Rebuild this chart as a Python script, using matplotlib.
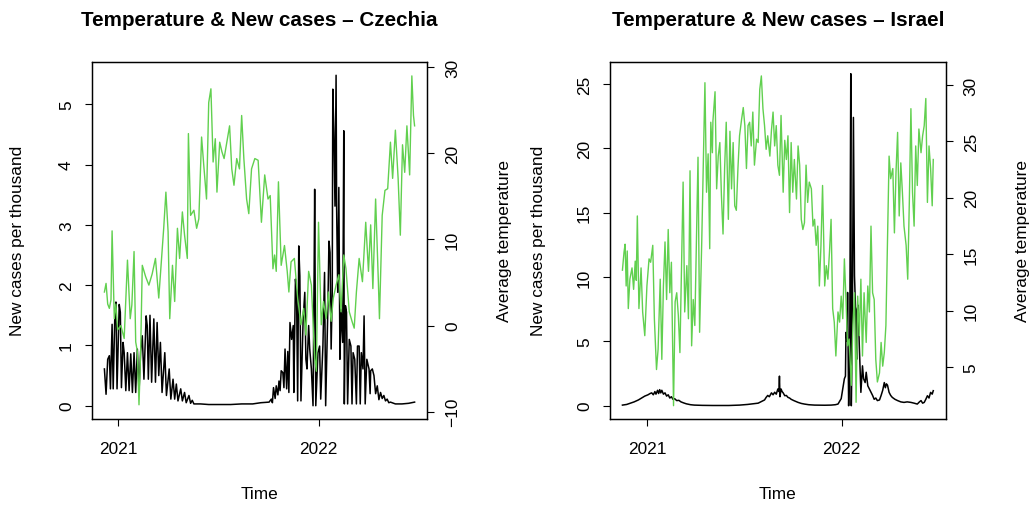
import numpy as np
import pandas as pd
import matplotlib
matplotlib.use("Agg")
import matplotlib.pyplot as plt
import matplotlib.dates as mdates

plt.rcParams['font.family'] = ['Liberation Sans', 'DejaVu Sans']

# ---- data (day offset from first date, value) ----
cz_start = "2020-12-07"
cz_cases = [(0,0.61),(3,0.19),(6,0.77),(9,0.83),(11,0.28),(14,1.35),(16,0.28),(19,1.50),(21,1.72),(23,0.28),
            (27,1.68),(29,1.55),(31,0.30),(34,1.05),(36,0.88),(39,0.25),(42,0.88),(45,0.25),(48,0.86),(51,0.22),
            (54,0.88),(57,0.22),(60,0.94),(63,0.22),(66,0.9),(69,1.16),(72,0.44),(76,1.49),(78,1.33),(80,0.44),
            (83,1.50),(86,0.39),(90,1.44),(93,0.39),(96,1.38),(99,0.50),(102,1.05),(105,0.22),(110,0.88),(113,0.17),
            (118,0.61),(121,0.11),(125,0.44),(128,0.11),(131,0.36),(134,0.08),(139,0.28),(142,0.08),(146,0.22),(149,0.05),
            (154,0.17),(157,0.04),(160,0.09),(163,0.03),(175,0.03),(190,0.02),(210,0.02),(230,0.02),(250,0.03),(270,0.03),
            (285,0.05),(300,0.06),(304,0.11),(306,0.05),(308,0.30),(311,0.12),(313,0.33),(316,0.18),(318,0.41),(320,0.25),
            (322,0.58),(325,0.55),(327,0.30),(329,0.94),(332,0.28),(334,0.90),(336,0.22),(338,1.38),(341,1.10),(344,1.33),
            (345,0.22),(348,2.10),(350,1.88),(352,0.08),(354,2.65),(356,2.15),(358,0.08),(362,1.44),(365,1.88),(367,0.77),
            (369,0.61),(372,1.33),(374,0.94),(377,0.61),(380,0.0),(382,2.21),(383,3.59),(385,0.0),(389,0.88),(392,0.99),
            (394,0.11),(398,0.99),(401,2.21),(403,0.0),(407,1.60),(409,2.73),(411,2.54),(413,0.94),(415,1.88),(416,5.25),
            (418,4.53),(420,3.31),(422,5.48),(423,3.26),(425,1.88),(427,3.62),(429,0.77),(431,1.60),(434,1.05),(436,4.56),
            (437,0.03),(439,1.66),(441,1.55),(443,0.03),(446,1.10),(449,0.99),(451,0.03),(453,0.88),(456,0.77),(459,0.03),
            (461,0.99),(464,0.99),(466,0.03),(468,0.88),(471,0.61),(473,1.49),(475,0.03),(478,0.77),(482,0.61),(484,0.20),
            (485,0.58),(488,0.61),(491,0.50),(494,0.20),(497,0.33),(500,0.10),(503,0.22),(506,0.12),(509,0.17),(512,0.08),
            (515,0.11),(518,0.05),(521,0.06),(530,0.03),(542,0.03),(554,0.04),(565,0.06)]
cz_temp = [(0,3.9),(3,4.9),(6,2.5),(9,2.0),(12,3.0),(14,11.0),(18,0.8),(21,2.5),(24,-0.5),(30,0.0),(36,-1.5),
           (42,7.6),(47,0.8),(50,2.4),(54,8.6),(57,-1.9),(60,-3.0),(63,-9.2),(66,-3.0),(69,7.0),(75,5.7),(81,4.7),
           (87,6.0),(93,7.8),(99,3.2),(104,7.8),(108,11.3),(112,15.5),(116,10.9),(119,0.8),(124,7.0),(128,2.8),
           (133,11.3),(137,7.8),(142,13.2),(146,10.5),(151,7.8),(153,22.3),(157,12.8),(163,13.4),(168,11.3),(172,12.4),
           (177,21.9),(181,18.6),(186,14.7),(190,25.9),(194,27.5),(198,19.0),(202,21.7),(205,15.5),(210,21.3),(214,20.2),
           (218,19.4),(223,21.3),(228,23.2),(232,18.2),(236,16.3),(241,19.4),(246,18.2),(250,24.4),(254,19.4),(259,14.7),
           (263,13.0),(268,18.2),(274,19.4),(280,19.2),(286,12.0),(292,17.5),(298,14.7),(302,15.1),(307,6.6),(310,8.2),
           (313,6.3),(317,16.7),(322,7.0),(328,9.3),(333,6.3),(336,3.9),(340,7.4),(346,7.8),(352,3.2),(358,0.1),
           (363,2.0),(367,-1.1),(372,6.3),(377,4.7),(383,-3.8),(386,-5.3),(390,12.0),(395,0.1),(399,2.8),(404,0.8),
           (408,3.9),(413,0.5),(417,3.2),(422,4.7),(427,5.9),(431,1.6),(436,8.2),(440,6.6),(446,1.6),(451,0.5),
           (455,-0.3),(459,3.9),(464,7.8),(470,5.1),(476,12.0),(481,6.3),(485,11.7),(489,4.3),(494,14.7),(499,5.1),
           (501,0.8),(506,12.8),(511,15.7),(516,15.9),(521,21.3),(525,17.1),(530,22.7),(535,17.1),(539,10.5),(543,21.0),
           (547,17.8),(551,23.2),(556,17.5),(560,29.0),(563,24.4),(565,23.2)]

il_start = "2020-11-15"
il_cases = [(0,0.05),(8,0.1),(15,0.2),(22,0.3),(30,0.45),(36,0.6),(42,0.75),(48,0.85),(52,0.95),(55,1.0),
            (58,0.85),(61,1.1),(63,0.9),(66,1.2),(68,0.95),(70,1.25),(72,1.0),(74,1.2),(77,0.9),(80,1.0),
            (83,0.75),(86,0.85),(89,0.6),(92,0.7),(95,0.5),(98,0.55),(102,0.4),(106,0.42),(110,0.3),(115,0.22),
            (120,0.15),(128,0.08),(135,0.05),(150,0.03),(170,0.02),(200,0.02),(220,0.05),(235,0.1),(245,0.15),(255,0.2),
            (262,0.35),(267,0.45),(270,0.65),(273,0.8),(276,0.7),(280,1.0),(283,0.85),(286,1.05),(289,0.9),(292,1.3),
            (294,1.1),(295,2.3),(296,0.7),(298,1.3),(300,1.1),(302,1.0),(305,0.78),(308,0.8),(311,0.65),(314,0.6),
            (317,0.5),(322,0.4),(330,0.26),(336,0.18),(342,0.13),(350,0.08),(361,0.05),(380,0.04),(392,0.05),(400,0.08),
            (405,0.13),(409,0.4),(411,0.55),(414,1.3),(417,2.1),(419,2.3),(420,5.7),(422,5.0),(423,8.8),(425,0.0),
            (427,3.6),(429,25.8),(430,0.0),(432,6.2),(434,22.4),(436,10.1),(438,7.5),(439,5.2),(440,3.6),(441,7.5),
            (443,7.8),(445,4.7),(448,1.04),(451,3.1),(453,2.1),(456,1.8),(458,2.6),(461,1.55),(464,1.3),(467,1.04),
            (470,0.8),(473,0.5),(476,0.6),(479,0.4),(483,0.45),(486,0.8),(489,1.2),(492,1.8),(494,1.4),(496,1.7),
            (498,1.6),(501,1.04),(504,0.8),(507,0.65),(512,0.5),(517,0.4),(523,0.3),(529,0.26),(535,0.3),(542,0.26),
            (548,0.2),(554,0.13),(558,0.3),(561,0.4),(564,0.2),(567,0.26),(570,0.5),(573,0.78),(576,0.6),(579,1.04),
            (582,0.9),(584,1.17)]
il_temp = [(0,13.6),(3,15.2),(5,15.9),(7,12.2),(9,15.3),(11,10.2),(14,12.8),(18,13.8),(21,11.9),(24,14.4),
           (26,12.7),(28,18.4),(31,10.2),(35,13.8),(38,9.9),(42,7.8),(46,12.2),(50,14.6),(53,14.3),(57,15.8),
           (60,9.3),(64,4.8),(67,6.6),(71,12.8),(74,5.7),(77,12.2),(80,16.1),(83,11.0),(86,17.2),(89,11.6),
           (92,14.3),(96,1.6),(99,10.8),(102,11.6),(105,9.6),(108,6.3),(111,13.7),(114,21.4),(117,9.9),(121,14.0),
           (124,9.3),(127,22.4),(130,6.9),(133,11.0),(136,8.7),(139,16.1),(142,23.6),(145,8.1),(149,16.1),(152,23.4),
           (155,30.2),(158,20.5),(161,23.9),(164,15.5),(166,26.7),(169,24.0),(170,26.8),(174,29.4),(177,20.8),(180,23.7),
           (183,24.9),(186,20.2),(189,16.8),(192,22.6),(195,26.7),(199,18.1),(202,25.9),(205,20.8),(208,24.9),(211,19.3),
           (214,18.9),(217,22.6),(220,25.5),(224,27.0),(227,28.0),(230,26.4),(233,22.6),(236,26.4),(239,26.7),(242,24.6),
           (245,27.6),(248,22.9),(252,25.2),(255,24.9),(258,29.6),(261,30.8),(264,27.9),(267,26.4),(270,24.3),(273,25.5),
           (277,23.7),(280,26.0),(283,27.6),(286,24.6),(289,26.4),(292,22.9),(295,22.0),(298,27.3),(302,20.5),(305,25.1),
           (308,23.4),(311,25.5),(314,18.7),(317,24.9),(320,20.5),(323,23.4),(327,19.9),(330,24.6),(333,22.9),(336,18.1),
           (339,17.2),(342,17.8),(345,22.9),(348,19.6),(351,21.4),(355,20.8),(358,17.5),(361,18.1),(364,15.8),(367,17.5),
           (370,12.2),(373,15.8),(376,21.1),(380,12.2),(383,14.0),(386,12.8),(389,15.2),(392,18.1),(395,10.2),(398,9.0),
           (401,6.0),(405,9.9),(408,9.0),(411,11.3),(414,9.3),(417,14.6),(420,11.0),(423,6.9),(426,7.5),(430,3.4),
           (433,8.7),(436,11.6),(439,1.9),(442,11.3),(445,7.8),(448,12.8),(451,6.0),(454,11.6),(458,7.2),(461,12.2),
           (464,9.9),(467,17.5),(470,11.6),(473,11.0),(476,5.7),(479,3.7),(483,4.5),(486,7.2),(489,5.1),(492,6.3),
           (495,8.7),(498,16.4),(501,23.7),(504,21.7),(508,22.6),(511,16.9),(514,22.3),(517,25.8),(520,18.4),(523,23.1),
           (526,20.5),(529,17.5),(533,15.8),(536,12.8),(539,19.6),(542,27.9),(545,20.5),(548,17.5),(551,24.6),(554,21.1),
           (557,26.1),(561,24.0),(564,25.5),(567,26.4),(570,28.8),(573,19.6),(576,24.6),(579,22.6),(582,19.3),(584,23.4)]

year_ticks = ["2021-01-01", "2022-01-01"]
year_labels = ["2021", "2022"]

W, H = 1034, 506
fig = plt.figure(figsize=(W / 100, H / 100), dpi=100)
GREEN = "#61D04F"
FS = 12.4


def to_xy(start, pairs):
    d = np.array([p[0] for p in pairs], dtype=float)
    v = np.array([p[1] for p in pairs], dtype=float)
    x = mdates.date2num(pd.Timestamp(start)) + d
    return x, v


def panel(left_px, right_px, title, start, cases, temp, ylim_c, yt_c, ylim_t, yt_t,
          ylab_left_x, ylab_right_x):
    top_px, bot_px = 62.7, 420
    ax = fig.add_axes([left_px / W, 1 - bot_px / H, (right_px - left_px) / W, (bot_px - top_px) / H])
    xc, yc = to_xy(start, cases)
    xt, yt = to_xy(start, temp)
    ax.plot(xc, yc, color="black", lw=1.1)
    x0 = mdates.date2num(pd.Timestamp(start))
    span = max(xc.max(), xt.max()) - x0
    ax.set_xlim(x0 - 0.04 * span, x0 + 1.04 * span)
    ax.set_ylim(*ylim_c)
    ax.set_yticks(yt_c)
    ax.set_xticks(mdates.date2num(pd.to_datetime(year_ticks)))
    ax.set_xticklabels(year_labels)

    ax2 = ax.twinx()
    ax2.plot(xt, yt, color=GREEN, lw=1.0)
    ax2.set_ylim(*ylim_t)
    ax2.set_yticks(yt_t)

    for a in (ax, ax2):
        for s in a.spines.values():
            s.set_linewidth(0.9)
        a.tick_params(direction="out", length=5, width=0.8, labelsize=FS)
    ax.tick_params(axis="y", pad=8)
    ax.tick_params(axis="x", pad=11)
    ax2.tick_params(axis="y", pad=8)
    for lab in ax.get_yticklabels():
        lab.set_rotation(90)
        lab.set_va("center")
    for lab in ax2.get_yticklabels():
        lab.set_rotation(90)
        lab.set_va("center")

    cx = (left_px + right_px) / 2 / W
    fig.text(cx, 1 - 25.5 / H, title, ha="center", va="baseline", fontsize=14.9, fontweight="bold")
    fig.text(cx, 1 - 499 / H, "Time", ha="center", va="baseline", fontsize=FS)
    cy = 1 - (top_px + bot_px) / 2 / H
    fig.text(ylab_left_x / W, cy, "New cases per thousand", rotation=90, ha="center", va="center", fontsize=FS)
    fig.text(ylab_right_x / W, cy, "Average temperature", rotation=90, ha="center", va="center", fontsize=FS)


panel(92, 427, "Temperature & New cases \u2013 Czechia", cz_start, cz_cases, cz_temp,
      (-0.22, 5.705), [0, 1, 2, 3, 4, 5], (-10.85, 30.65), [-10, 0, 10, 20, 30], 18, 505)
panel(610, 945.7, "Temperature & New cases \u2013 Israel", il_start, il_cases, il_temp,
      (-1.03, 26.73), [0, 5, 10, 15, 20, 25], (0.42, 32.06), [5, 10, 15, 20, 25, 30], 538, 1022)

fig.savefig("out.png", dpi=100)
